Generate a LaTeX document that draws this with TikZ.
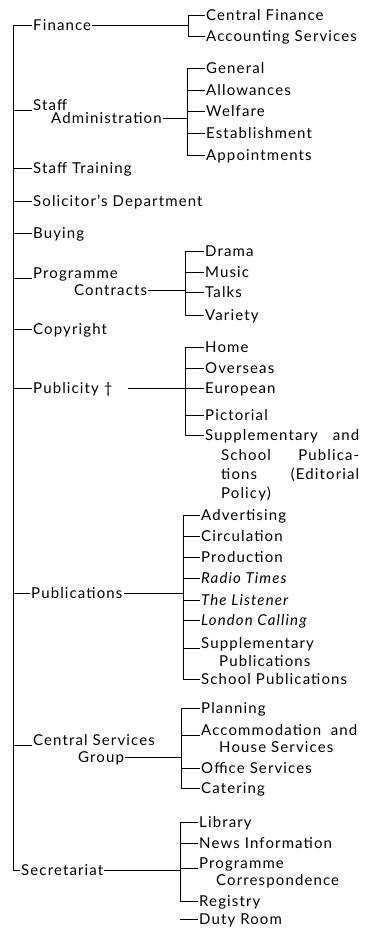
\documentclass[tikz,border=0pt]{standalone}
\usepackage{fontspec}
\setmainfont{Lato}[LetterSpace=7.5]
\usetikzlibrary{positioning,calc}

\tikzset{
  unit/.style={anchor=west, inner sep=1pt, text height=10pt, text depth=0pt},
  link/.style={line width=0.7pt}
}

\begin{document}
\begin{tikzpicture}[x=1pt, y=-1pt, every node/.style={font=\fontsize{15}{18}\selectfont}]
    \useasboundingbox (0,0) rectangle (365,929);

    % Level 1
    \node[unit] (fin) at (32,25) {Finance};
    \node[unit] (stf) at (32,105) {Staff};
    \node[unit] (stfadm) at (50,118) {Administration};
    \node[unit] (trn) at (32,168) {Staff Training};
    \node[unit] (sol) at (32,201) {Solicitor's Department};
    \node[unit] (buy) at (32,233) {Buying};
    \node[unit] (prg) at (32,273) {Programme};
    \node[unit] (prgcon) at (73,290) {Contracts};
    \node[unit] (cpy) at (32,329) {Copyright};
    \node[unit] (pbl) at (32,388) {Publicity \dag};
    \node[unit] (pbn) at (30,593) {Publications};
    \node[unit] (csg) at (32,740) {Central Services};
    \node[unit] (csggrp) at (77,757) {Group};
    \node[unit] (sec) at (20,870) {Secretariat};

    % Trunk
    \coordinate (top) at (13,25);
    \coordinate (bot) at (13,870);

    % Level 2 - Finance
    \coordinate (finb) at (188,25);
    \node[unit] (cfin) at (205,15) {Central Finance};
    \node[unit] (accs) at (205,36) {Accounting Services};

    % Level 2 - Staff Administration
    \coordinate (stfb) at (187,118);
    \node[unit] (gen) at (205,68) {General};
    \node[unit] (allw) at (205,90) {Allowances};
    \node[unit] (welf) at (205,111) {Welfare};
    \node[unit] (estb) at (205,133) {Establishment};
    \node[unit] (appt) at (205,155) {Appointments};

    % Level 2 - Programme Contracts
    \coordinate (prgb) at (185,290);
    \node[unit] (drm) at (204,251) {Drama};
    \node[unit] (mus) at (204,272) {Music};
    \node[unit] (tlk) at (204,292) {Talks};
    \node[unit] (var) at (204,315) {Variety};

    % Level 2 - Publicity
    \coordinate (pblb) at (185,388);
    \node[unit] (home) at (204,347) {Home};
    \node[unit] (ovs) at (204,368) {Overseas};
    \node[unit] (eur) at (204,388) {European};
    \node[unit] (pict) at (204,415) {Pictorial};
    \node[unit] (sup) at (204,435) {\makebox[154pt][s]{Supplementary and}};
    \node[unit] (sup2) at (220,455) {\makebox[138pt][s]{School Publica-}};
    \node[unit] (sup3) at (220,474) {\makebox[138pt][s]{tions (Editorial}};
    \node[unit] (sup4) at (220,493) {Policy)};

    % Level 2 - Publications
    \coordinate (pbnb) at (183,593);
    \node[unit] (adv) at (200,515) {Advertising};
    \node[unit] (circ) at (200,536) {Circulation};
    \node[unit] (prod) at (200,557) {Production};
    \node[unit] (rt) at (200,578) {\itshape Radio Times};
    \node[unit] (lis) at (200,600) {\itshape The Listener};
    \node[unit] (lon) at (200,620) {\itshape London Calling};
    \node[unit] (spub) at (200,643) {Supplementary};
    \node[unit] (spub2) at (218,661) {Publications};
    \node[unit] (schp) at (200,679) {School Publications};

    % Level 2 - Central Services Group
    \coordinate (csgb) at (181,757);
    \node[unit] (plan) at (200,708) {Planning};
    \node[unit] (acco) at (200,730) {\makebox[156pt][s]{Accommodation and}};
    \node[unit] (acco2) at (218,747) {House Services};
    \node[unit] (offs) at (200,768) {Office Services};
    \node[unit] (cat) at (200,788) {Catering};

    % Level 2 - Secretariat
    \coordinate (secb) at (180,870);
    \node[unit] (lib) at (198,822) {Library};
    \node[unit] (news) at (198,843) {News Information};
    \node[unit] (pcor) at (198,863) {Programme};
    \node[unit] (pcor2) at (215,880) {Correspondence};
    \node[unit] (reg) at (198,901) {Registry};
    \node[unit] (duty) at (198,919) {Duty Room};

    % Edges - trunk
    \draw[link] (top) -- (bot) -- (sec.west);
    \foreach \n in {fin,trn,sol,buy,cpy,pbl,pbn}
        \draw[link] (top |- \n.west) -- (\n.west);
    \foreach \n in {stf,prg,csg}
        \draw[link] (top |- \n.base west) -- (\n.base west);

    % Edges - branches
    \draw[link] (fin.east) -- (finb);
    \draw[link] (stfadm.east) -- (stfb);
    \draw[link] (prgcon.east) -- (prgb);
    \draw[link] ([xshift=14pt]pbl.east) -- (pblb);
    \draw[link] (pbn.east) -- (pbnb);
    \draw[link] (csggrp.east) -- (csgb);
    \draw[link] (sec.east) -- (secb);

    % Edges - brackets
    \draw[link] (finb |- cfin.west) -- (finb |- accs.west);
    \draw[link] (stfb |- gen.west) -- (stfb |- appt.west);
    \draw[link] (prgb |- drm.west) -- (prgb |- var.west);
    \draw[link] (pblb |- home.west) -- (pblb |- sup.west);
    \draw[link] (pbnb |- adv.west) -- (pbnb |- schp.west);
    \draw[link] (csgb |- plan.west) -- (csgb |- cat.west);
    \draw[link] (secb |- lib.west) -- (secb |- reg.west);

    % Edges - children
    \foreach \c in {cfin,accs}
        \draw[link] (finb |- \c.west) -- (\c.west);
    \foreach \c in {gen,allw,welf,estb,appt}
        \draw[link] (stfb |- \c.west) -- (\c.west);
    \foreach \c in {drm,mus,tlk,var}
        \draw[link] (prgb |- \c.west) -- (\c.west);
    \foreach \c in {home,ovs,eur,pict,sup}
        \draw[link] (pblb |- \c.west) -- (\c.west);
    \foreach \c in {adv,circ,prod,rt,lis,lon,schp}
        \draw[link] (pbnb |- \c.west) -- (\c.west);
    \draw[link] (pbnb |- spub.base west) -- (spub.base west);
    \foreach \c in {plan,offs,cat}
        \draw[link] (csgb |- \c.west) -- (\c.west);
    \draw[link] (csgb |- acco.base west) -- (acco.base west);
    \foreach \c in {lib,news,reg,duty}
        \draw[link] (secb |- \c.west) -- (\c.west);
    \draw[link] (secb |- pcor.base west) -- (pcor.base west);
\end{tikzpicture}
\end{document}
